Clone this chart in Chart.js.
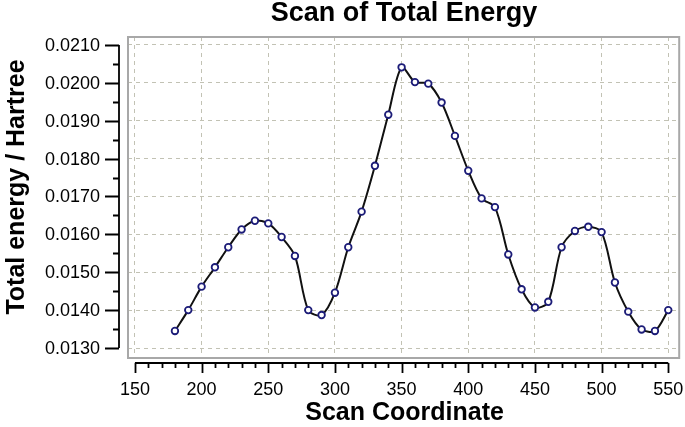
<!DOCTYPE html>
<html>
<head>
<meta charset="utf-8">
<script src="https://cdn.jsdelivr.net/npm/chart.js@4/dist/chart.umd.min.js"></script>
<style>
    html, body { margin: 0; padding: 0; background: #fff; }
    #wrap { width: 685px; height: 427px; }
</style>
</head>
<body>
<div id="wrap"><canvas id="scanChart"></canvas></div>
<script>
// --- Data ---
const scanCoords = [180, 190, 200, 210, 220, 230, 240, 250, 260, 270,
                    280, 290, 300, 310, 320, 330, 340, 350, 360, 370,
                    380, 390, 400, 410, 420, 430, 440, 450, 460, 470,
                    480, 490, 500, 510, 520, 530, 540, 550];
const totalEnergy = [0.01345, 0.01400, 0.01462, 0.01513, 0.01566, 0.01613, 0.01636, 0.01629, 0.01593, 0.01543,
                     0.01400, 0.01387, 0.01446, 0.01566, 0.01660, 0.01781, 0.01916, 0.02041, 0.02002, 0.01998,
                     0.01948, 0.01860, 0.01768, 0.01695, 0.01672, 0.01547, 0.01455, 0.01407, 0.01422, 0.01566,
                     0.01609, 0.01620, 0.01606, 0.01473, 0.01396, 0.01349, 0.01345, 0.01400];
const xTicks = [150, 200, 250, 300, 350, 400, 450, 500, 550];
const yTicks = [0.0130, 0.0140, 0.0150, 0.0160, 0.0170, 0.0180, 0.0190, 0.0200, 0.0210];
const xMinorStep = 10;
const yMinorStep = 0.0005;

const FONT = '"Liberation Sans", Arial, sans-serif';

// Trục rời (detached axes) + khung + tiêu đề trục, vẽ bằng scale của Chart.js
const detachedAxes = {
    id: 'detachedAxes',
    afterDraw(chart) {
        const ctx = chart.ctx;
        const area = chart.chartArea;
        const xs = chart.scales.x;
        const ys = chart.scales.y;

        // khung vùng vẽ
        ctx.save();
        ctx.strokeStyle = '#a8a8a8';
        ctx.lineWidth = 2;
        ctx.strokeRect(area.left, area.top, area.right - area.left, area.bottom - area.top);

        ctx.strokeStyle = '#000';
        ctx.fillStyle = '#000';
        ctx.lineWidth = 1.8;

        // --- trục Y ---
        const axX = area.left - 9;
        const yTop = ys.getPixelForValue(yTicks[yTicks.length - 1]);
        const yBot = ys.getPixelForValue(yTicks[0]);
        ctx.beginPath();
        ctx.moveTo(axX, yTop);
        ctx.lineTo(axX, yBot);
        for (let v = yTicks[0]; v <= yTicks[yTicks.length - 1] + 1e-9; v += yMinorStep) {
            const py = Math.round(ys.getPixelForValue(v)) + 0.5;
            const isMajor = Math.abs(Math.round(v / 0.001) * 0.001 - v) < 1e-9;
            ctx.moveTo(axX, py);
            ctx.lineTo(axX - (isMajor ? 14 : 6), py);
        }
        ctx.stroke();

        ctx.font = '18px ' + FONT;
        ctx.textAlign = 'right';
        ctx.textBaseline = 'middle';
        yTicks.forEach(v => {
            ctx.fillText(v.toFixed(4), axX - 19, ys.getPixelForValue(v) + 1);
        });

        // --- trục X ---
        const axY = area.bottom + 5;
        const xL = xs.getPixelForValue(xTicks[0]);
        const xR = xs.getPixelForValue(xTicks[xTicks.length - 1]);
        ctx.beginPath();
        ctx.moveTo(xL, axY);
        ctx.lineTo(xR, axY);
        for (let v = xTicks[0]; v <= xTicks[xTicks.length - 1]; v += xMinorStep) {
            const px = Math.round(xs.getPixelForValue(v)) + 0.5;
            const isMajor = v % 50 === 0;
            ctx.moveTo(px, axY);
            ctx.lineTo(px, axY + (isMajor ? 10 : 5));
        }
        ctx.stroke();

        ctx.textAlign = 'center';
        ctx.textBaseline = 'middle';
        xTicks.forEach(v => {
            ctx.fillText(String(v), xs.getPixelForValue(v), axY + 27);
        });

        // --- tiêu đề trục ---
        ctx.font = 'bold 25px ' + FONT;
        ctx.fillText('Scan Coordinate', (area.left + area.right) / 2 + 1, 413);

        ctx.save();
        ctx.translate(17, 187);
        ctx.rotate(-Math.PI / 2);
        ctx.fillText('Total energy / Hartree', 0, 0);
        ctx.restore();

        ctx.restore();
    }
};

document.addEventListener('DOMContentLoaded', function () {
    const ctx = document.getElementById('scanChart');
    const points = scanCoords.map((x, i) => ({ x: x, y: totalEnergy[i] }));

    const gridOpts = { color: '#c2c2b4', lineWidth: 1, drawTicks: false };
    const borderOpts = { display: false, dash: [4, 4] };

    new Chart(ctx, {
        type: 'line',
        data: {
            datasets: [{
                label: 'Total energy',
                data: points,
                borderColor: '#111',
                borderWidth: 2,
                tension: 0.3,
                fill: false,
                pointRadius: 3.3,
                pointBorderWidth: 1.8,
                pointBorderColor: '#1c1c78',
                pointBackgroundColor: '#fff'
            }]
        },
        options: {
            responsive: true,
            maintainAspectRatio: false,
            animation: false,
            layout: { padding: { left: 128, right: 5, top: 0, bottom: 69 } },
            scales: {
                x: {
                    type: 'linear',
                    min: 144.8,
                    max: 558.2,
                    afterBuildTicks: s => { s.ticks = xTicks.map(v => ({ value: v })); },
                    ticks: { display: false },
                    border: borderOpts,
                    grid: gridOpts
                },
                y: {
                    min: 0.012736,
                    max: 0.021211,
                    afterBuildTicks: s => { s.ticks = yTicks.map(v => ({ value: v })); },
                    ticks: { display: false },
                    border: borderOpts,
                    grid: gridOpts
                }
            },
            plugins: {
                legend: { display: false },
                tooltip: { enabled: false },
                title: {
                    display: true,
                    text: 'Scan of Total Energy',
                    color: '#000',
                    font: { family: FONT, size: 27, weight: 'bold', lineHeight: 1 },
                    padding: { top: 0, bottom: 10 }
                }
            }
        },
        plugins: [detachedAxes]
    });
});
</script>
</body>
</html>
